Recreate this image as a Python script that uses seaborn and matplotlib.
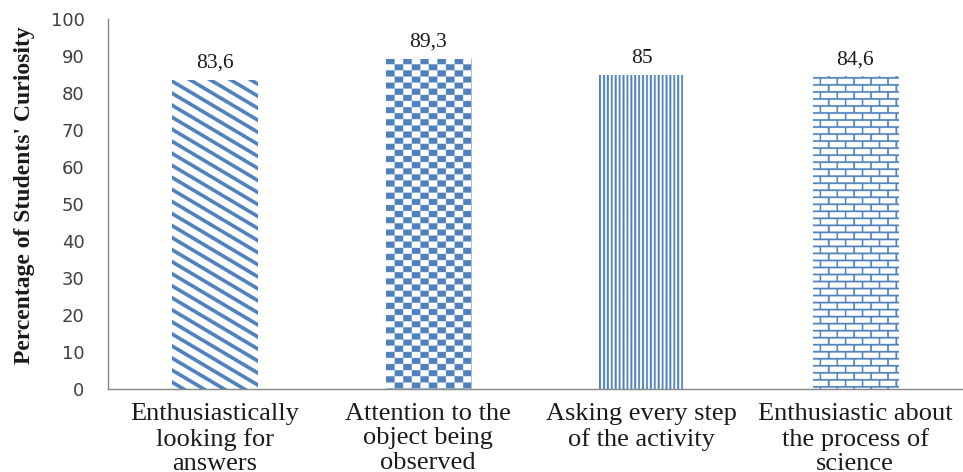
import numpy as np
import pandas as pd
import matplotlib
matplotlib.use("Agg")
import matplotlib.pyplot as plt
import seaborn as sns

# Chart data
categories = [
    "Enthusiastically\nlooking for\nanswers",
    "Attention to the\nobject being\nobserved",
    "Asking every step\nof the activity",
    "Enthusiastic about\nthe process of\nscience",
]
values = [83.6, 89.3, 85.0, 84.6]
value_labels = ["83,6", "89,3", "85", "84,6"]
y_ticks = [0, 10, 20, 30, 40, 50, 60, 70, 80, 90, 100]
y_label = "Percentage of Students' Curiosity"

BLUE = np.array([79, 129, 189]) / 255.0
AXIS_GRAY = "#868686"

sns.set_theme(style="white")
plt.rcParams["font.family"] = ["DejaVu Sans"]

W, H = 963, 472
fig = plt.figure(figsize=(W / 100, H / 100), dpi=100)
ax = fig.add_axes([108 / W, 83 / H, (962 - 108) / W, 370 / H])

df = pd.DataFrame({"category": categories, "value": values})
sns.barplot(data=df, x="category", y="value", width=0.4, color="white",
            saturation=1, linewidth=0, ax=ax)
ax.set_xlim(-0.5, len(categories) - 0.5)
ax.set_ylim(0, 100)


# ---- fill patterns (computed on a supersampled pixel grid) ----
SS = 4


def grid(h, w):
    r, c = np.mgrid[0:h * SS, 0:w * SS].astype(float)
    return r / SS, c / SS


def diagonal(h, w):
    r, c = grid(h, w)
    return np.mod(r - 0.6 * c, 12.0) < 4.2


def checker(h, w):
    r, c = grid(h, w)
    return (np.floor(c / 8.45) + np.floor(r / 6.1)) % 2 == 0


def vertical(h, w):
    r, c = grid(h, w)
    return np.mod(c, 3.86) < 1.9


def brick(h, w):
    r, c = grid(h, w)
    r = r + 5.0
    row = np.floor(r / 7.0)
    horiz = np.mod(r, 7.0) < 1.6
    offset = (row % 2) * 8.35
    vert = np.mod(c + offset + 2.0, 16.7) < 1.6
    return horiz | vert


patterns = [diagonal, checker, vertical, brick]

fig.canvas.draw()
for patch, make in zip(ax.patches, patterns):
    x0, y0 = patch.get_x(), patch.get_y()
    x1, y1 = x0 + patch.get_width(), y0 + patch.get_height()
    (px0, py0), (px1, py1) = ax.transData.transform([(x0, y0), (x1, y1)])
    w = int(round(px1 - px0))
    h = int(round(py1 - py0))
    mask = make(h, w)
    img = np.ones(mask.shape + (3,))
    img[mask] = BLUE
    im = ax.imshow(img, extent=(x0, x1, y0, y1), origin="upper",
                   interpolation="antialiased", aspect="auto", zorder=2)
    im.set_clip_path(patch)

ax.set_xlim(-0.5, len(categories) - 0.5)
ax.set_ylim(0, 100)

# value labels above bars
for i, (v, lab) in enumerate(zip(values, value_labels)):
    ax.annotate(lab, xy=(i, v), xytext=(0, 8.5), textcoords="offset points",
                ha="center", va="baseline", fontsize=15.5,
                family=["Liberation Serif"], color="#1a1a1a")

# axes styling
for side in ("top", "right"):
    ax.spines[side].set_visible(False)
for side in ("left", "bottom"):
    ax.spines[side].set_color(AXIS_GRAY)
    ax.spines[side].set_linewidth(1.0)

ax.set_yticks(y_ticks)
ax.set_yticklabels([str(t) for t in y_ticks])
ax.tick_params(axis="y", which="major", direction="out", length=6, width=1,
               color=AXIS_GRAY, pad=11, labelsize=13, labelcolor="#404040")

bounds = np.arange(len(categories) + 1) - 0.5
ax.set_xticks(bounds)
ax.set_xticklabels([""] * len(bounds))
ax.set_xticks(np.arange(len(categories)), minor=True)
ax.set_xticklabels(categories, minor=True, fontsize=19,
                   family=["Liberation Serif"], linespacing=1.15,
                   color="#1a1a1a")
ax.tick_params(axis="x", which="minor", length=0, pad=10)
ax.tick_params(axis="x", which="major", direction="out", length=6, width=1,
               color=AXIS_GRAY)

ax.set_xlabel("")
ax.set_ylabel(y_label, fontsize=17, fontweight="bold",
              family=["Liberation Serif"], color="#1a1a1a")
ax.yaxis.set_label_coords(-0.086, 0.525)
ax.grid(False)

fig.savefig("out.png", dpi=100)
